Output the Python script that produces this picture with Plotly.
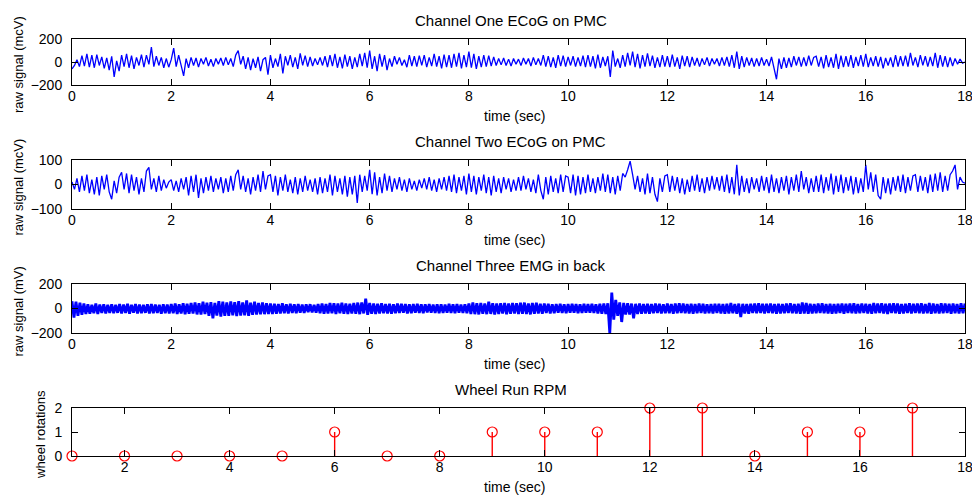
import plotly.graph_objects as go

# ---------------- data ----------------
t_step_ecog = 0.05
ch1 = [
    -60, -30, 20, -40, 55, -35, 70, -45, 60, -50, 65, -30, 45, -55, 35, -70, 50, -130, 10, -80,
    60, -40, 70, -50, 55, -60, 40, -30, 65, -45, 60, -20, 130, -40, 50, -30, 40, -50, 30, -45,
    20, 120, -40, 60, -30, -120, 30, -50, 40, -30, 35, -45, 30, -20, 40, -35, 25, -40, 30, -20,
    35, -30, 40, -25, 30, -40, 60, 100, -20, 50, -60, 40, -70, 30, -50, 45, -80, 20, 40, -110,
    60, -50, 30, -40, 70, -100, 50, -30, 60, -45, 40, -60, 75, -30, 55, -40, 45, -35, 30, -25,
    40, -30, 50, -45, 60, -35, 70, -50, 45, -55, 65, -40, 50, -60, 40, -45, 70, -35, 80, -50,
    100, -60, 50, -80, 70, -40, 60, -70, 30, -40, 50, -20, 40, -30, 20, -45, 60, -35, 50, -40,
    55, -30, 60, -45, 40, -35, 70, -40, 50, -55, 65, -45, 60, -50, 70, -40, 80, -55, 60, -45,
    90, -50, 70, -60, 50, -45, 60, -40, 55, -35, 45, -30, 30, -25, 35, -30, 25, -35, 30, -20,
    25, -30, 35, -20, 30, -35, 40, -25, 30, -30, 60, -40, 50, -45, 40, -50, 60, -35, 55, -40,
    45, -30, 50, -40, 40, -35, 55, -45, 60, -40, 50, -55, 65, -50, 45, -35, 50, -130, 100, -40,
    30, -50, 60, -40, 80, -30, 90, -45, 70, -55, 60, -40, 75, -35, 55, -50, 40, -45, 60, -40,
    50, -45, 65, -40, 40, -60, 55, -35, 50, -45, 45, -30, 35, -40, 30, -25, 40, -35, 30, -20,
    30, -35, 40, -30, 45, -40, 60, -50, 90, -60, 50, -45, 40, -30, 35, -40, 30, -35, 40, -30,
    25, -35, 45, -40, -150, 30, -60, 40, -50, 35, -45, 50, -30, 45, -40, 40, -35, 55, -30, 40,
    50, -40, 45, -55, 60, -45, 40, -50, 70, -60, 55, -45, 50, -40, 60, -50, 45, -35, 60, -40,
    70, -45, 40, -35, 50, -40, 45, -55, 35, -30, 40, -45, 60, -40, 50, -35, 55, -40, 80, -30,
    40, -45, 60, -30, 50, -40, 45, -35, 80, -50, 60, -40, 50, -45, 40, -35, 30, -20, 25, -10,
    0,
]
ch2 = [
    10, -20, 25, -30, 35, -25, 40, -35, 20, -40, 30, -45, 35, -20, 40, -30, -60, 15, -35, 30,
    50, -20, 45, -35, 40, -25, 30, -40, 25, -30, 55, 70, -20, 25, -30, 35, -25, 20, -15, 10,
    20, -25, 15, -30, 25, -20, 30, -45, 35, -30, 40, -55, 25, -35, 30, -25, 35, -30, 25, -20,
    30, -35, 25, -30, 35, -25, 40, 60, -20, 35, -30, 25, -40, 30, -25, 40, -30, 55, -20, 35,
    40, -30, 35, -45, 30, -25, 40, -30, 20, -35, 30, -40, 25, -30, 35, -25, 20, -30, 25, -40,
    30, -35, 25, -30, 40, -45, 35, -30, 25, -40, 35, -50, 30, -40, 35, -75, 40, -30, 35, -25,
    60, -40, 50, -45, 30, -35, 45, -25, 35, -30, 25, -20, 30, -25, 20, -30, 25, -20, 15, -25,
    20, -15, 25, -20, 30, -25, 20, -30, 25, -20, 30, -25, 35, -30, 40, -35, 30, -25, 35, -40,
    45, -30, 35, -40, 30, -25, 40, -35, 30, -45, 35, -30, 25, -35, 30, -20, 25, -30, 20, -25,
    30, -25, 35, -20, 25, -30, 20, -35, 40, -25, -60, 30, -40, 35, -30, 25, -35, 40, -30, 35,
    30, -35, 40, -45, 35, -40, 30, -35, 40, -30, 25, -35, 30, -25, 45, -30, 40, -35, 30, -40,
    35, -25, 45, 30, 60, 95, 40, -20, 35, -30, 25, -40, 45, -35, 30, -40, -70, 25, -30, 35,
    40, -30, 35, -25, 30, -35, 25, -40, 20, -30, 35, -25, 40, -30, 25, -35, 30, -25, 35, -20,
    30, -25, 35, -30, 40, -35, 30, -40, 80, -45, 35, -30, 25, -35, 30, -20, 25, -30, 35, -25,
    30, -35, 40, -30, 25, -35, 30, -25, 35, -40, 30, -25, 40, -30, 55, -20, 30, -35, 25, -30,
    35, -30, 40, -35, 30, -25, 45, -40, 35, -30, 40, -35, 30, -25, 35, -40, 30, -35, 25, -30,
    80, -20, 50, -30, 40, -45, -60, 30, -35, 25, -40, 30, -25, 35, -30, 40, -35, 30, -25, 35,
    40, -30, 35, -25, 30, -35, 40, -30, 45, -25, 50, -30, 35, -25, 40, 55, 80, -20, 30, 10,
    5,
]
t_step_emg = 0.04
ch3 = [
    60, -75, 55, -60, 48, -52, 40, -45, 35, -42, 30, -38, 40, -44, 32, -36, 35, -40, 30, -36, 34, -38, 30, -35, 36,
    -40, 32, -36, 38, -42, 30, -34, 36, -40, 33, -38, 30, -35, 34, -40, 36, -38, 32, -36, 30, -42, 35, -38, 33, -40,
    36, -38, 40, -44, 35, -40, 42, -46, 38, -42, 45, -40, 50, -48, 42, -50, 55, -45, 48, -60, 52, -80, 45, -58, 60,
    -65, 55, -60, 50, -60, 58, -55, 52, -62, 60, -58, 50, -55, 65, -60, 48, -52, 55, -50, 45, -48, 50, -46, 42, -44,
    40, -45, 38, -42, 36, -40, 42, -38, 35, -40, 38, -36, 34, -38, 36, -35, 32, -36, 34, -30, 35, -32, 30, -34, 36,
    -38, 40, -42, 36, -40, 45, -38, 42, -44, 40, -38, 46, -42, 40, -45, 38, -40, 44, -42, 48, -46, 50, -40, 80, -52,
    45, -42, 40, -44, 38, -40, 42, -38, 36, -40, 38, -42, 35, -38, 40, -36, 38, -35, 36, -40, 34, -38, 36, -35, 38,
    -36, 34, -38, 35, -32, 36, -34, 33, -36, 35, -38, 34, -36, 32, -35, 38, -36, 34, -38, 36, -35, 33, -36, 35, -38,
    40, -44, 50, -46, 42, -48, 45, -42, 40, -46, 55, -44, 42, -48, 40, -45, 42, -40, 44, -46, 40, -42, 45, -40, 42,
    -44, 46, -42, 48, -45, 40, -48, 44, -42, 46, -40, 38, -42, 40, -36, 38, -40, 35, -38, 36, -34, 38, -36, 34, -38,
    36, -35, 38, -34, 36, -38, 34, -36, 38, -35, 36, -34, 38, -36, 35, -40, 38, -42, 40, -45, 42, -200, 130, -90, 70,
    -60, 50, -110, 45, -50, 42, -48, 40, -80, 38, -44, 40, -42, 36, -40, 38, -42, 36, -38, 40, -36, 38, -40, 35, -38,
    40, -38, 36, -42, 40, -38, 42, -36, 40, -38, 36, -40, 38, -42, 36, -38, 40, -36, 38, -40, 35, -38, 36, -40, 38,
    -36, 38, -40, 36, -42, 38, -40, 44, -38, 36, -42, 40, -70, 38, -40, 36, -42, 38, -36, 40, -38, 42, -36, 38, -40,
    38, -36, 40, -38, 36, -42, 38, -40, 36, -38, 40, -36, 42, -38, 36, -40, 38, -42, 48, -40, 44, -42, 38, -40, 36,
    -38, 40, -36, 42, -38, 36, -40, 38, -42, 36, -40, 38, -36, 40, -42, 38, -36, 40, -38, 42, -40, 36, -38, 40, -36,
    38, -40, 36, -42, 45, -38, 40, -36, 42, -40, 38, -44, 40, -36, 42, -38, 40, -42, 36, -40, 38, -36, 42, -40, 38,
    -36, 40, -38, 42, -40, 36, -38, 44, -42, 40, -38, 36, -40, 42, -38, 40, -36, 38, -42, 40, -38, 36, -40, 42, -38,
    40,
]
wheel_t = [1, 2, 3, 4, 5, 6, 7, 8, 9, 10, 11, 12, 13, 14, 15, 16, 17]
wheel_rot = [0, 0, 0, 0, 0, 1, 0, 0, 1, 1, 1, 2, 2, 0, 1, 1, 2]

titles = ["Channel One ECoG on PMC", "Channel Two ECoG on PMC",
          "Channel Three EMG in back", "Wheel Run RPM"]
ylabels = ["raw signal (mcV)", "raw signal (mcV)", "raw signal (mV)", "wheel rotations"]
xlabel = "time (sec)"

# ---------------- figure ----------------
W, H = 972, 500
FONT = "Liberation Sans, Arial, Helvetica, sans-serif"
x0, x1 = 72, 965
boxes = [(39, 85), (160, 209), (284, 333), (408, 456)]  # top, bottom in px

t1 = [i * t_step_ecog for i in range(len(ch1))]
t2 = [i * t_step_ecog for i in range(len(ch2))]
t3 = [i * t_step_emg for i in range(len(ch3))]

fig = go.Figure()
line = dict(color="rgb(0,0,255)", width=1.3)
fig.add_trace(go.Scatter(x=t1, y=ch1, mode="lines", line=line, xaxis="x", yaxis="y"))
fig.add_trace(go.Scatter(x=t2, y=ch2, mode="lines", line=line, xaxis="x2", yaxis="y2"))
fig.add_trace(go.Scatter(x=t3, y=ch3, mode="lines", line=dict(color="rgb(0,0,255)", width=2.8),
                         xaxis="x3", yaxis="y3"))
fig.add_trace(go.Scatter(
    x=wheel_t, y=wheel_rot, mode="markers", xaxis="x4", yaxis="y4", cliponaxis=False,
    marker=dict(symbol="circle-open", size=10, color="red", line=dict(width=1.2, color="red")),
    error_y=dict(type="data", symmetric=False, array=[0] * len(wheel_rot),
                 arrayminus=wheel_rot, color="red", thickness=1.4, width=0),
))

common = dict(showline=True, linecolor="black", linewidth=1, mirror="allticks",
              ticks="inside", ticklen=6, tickcolor="black", tickwidth=1,
              showgrid=False, zeroline=False, automargin=False,
              ticklabeloverflow="allow",
              tickfont=dict(family=FONT, size=14, color="black"))

yranges = [[-200, 200], [-100, 100], [-200, 200], [0, 2]]
yticks = [[-200, 0, 200], [-100, 0, 100], [-200, 0, 200], [0, 1, 2]]
xranges = [[0, 18], [0, 18], [0, 18], [1, 18]]

layout = dict(width=W, height=H, margin=dict(l=0, r=0, t=0, b=0, pad=0), template="none",
              paper_bgcolor="white", plot_bgcolor="white", showlegend=False)
annotations = []
for i, (top, bot) in enumerate(boxes):
    sfx = "" if i == 0 else str(i + 1)
    layout["xaxis" + sfx] = dict(common, domain=[x0 / W, x1 / W], range=xranges[i],
                                 tickvals=list(range(0, 19, 2)), anchor="y" + sfx,
                                 ticklabelstandoff=-2)
    layout["yaxis" + sfx] = dict(common, domain=[1 - bot / H, 1 - top / H], range=yranges[i],
                                 tickvals=yticks[i], anchor="x" + sfx, ticklabelstandoff=6)
    annotations.append(dict(text=titles[i], x=511 / W, y=1 - (top - 19) / H, xref="paper", yref="paper",
                            showarrow=False, xanchor="center", yanchor="middle",
                            font=dict(family=FONT, size=15, color="black")))
    annotations.append(dict(text=xlabel, x=514 / W, y=1 - (bot + 31) / H, xref="paper", yref="paper",
                            showarrow=False, xanchor="center", yanchor="middle",
                            font=dict(family=FONT, size=14, color="black")))
    lx = 40 if i == 3 else 18
    annotations.append(dict(text=ylabels[i], x=lx / W, y=1 - ((top + bot) / 2 + 3) / H,
                            xref="paper", yref="paper", textangle=-90,
                            showarrow=False, xanchor="center", yanchor="middle",
                            font=dict(family=FONT, size=13, color="black")))
layout["annotations"] = annotations
fig.update_layout(**layout)
fig.write_html("out.html")
